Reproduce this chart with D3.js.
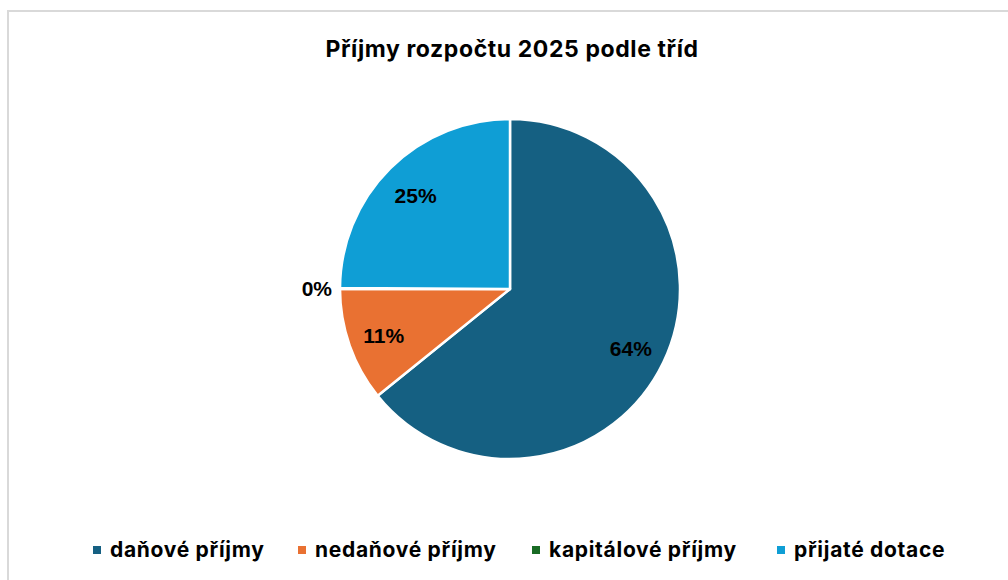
<!DOCTYPE html>
<html>
<head>
<meta charset="utf-8">
<script src="https://cdn.jsdelivr.net/npm/d3@7"></script>
<style>
  body { margin: 0; background: #fff; }
  svg text { font-family: Inter, "Open Sans", sans-serif; }
</style>
</head>
<body>
<div id="chart"></div>
<script>
// categories and shares of the 2025 budget income
var categories = ["daňové příjmy", "nedaňové příjmy", "kapitálové příjmy", "přijaté dotace"];
var values = [64.2, 10.8, 0.1, 24.9];
var colors = ["#156082", "#E97132", "#196B24", "#0F9ED5"];

var width = 1008,
    height = 580;

var data = categories.map(function(c, i) { return {name: c, value: values[i], color: colors[i]}; });
var total = d3.sum(values);

var svg = d3.select("#chart").append("svg")
    .attr("width", width)
    .attr("height", height);

// chart area frame
svg.append("rect")
    .attr("x", 8).attr("y", 11)
    .attr("width", 1020).attr("height", 600)
    .attr("fill", "#fff")
    .attr("stroke", "#d9d9d9")
    .attr("stroke-width", 2);

svg.append("text")
    .attr("x", 512)
    .attr("y", 57)
    .attr("text-anchor", "middle")
    .style("font-size", "23px")
    .style("font-weight", "bold")
    .style("letter-spacing", "0.6px")
    .attr("fill", "#000")
    .text("Příjmy rozpočtu 2025 podle tříd");

var cx = 510, cy = 289, r = 170;

var pie = d3.pie().sort(null).value(function(d) { return d.value; });
var arc = d3.arc().innerRadius(0).outerRadius(r);
var labelArc = d3.arc().innerRadius(134).outerRadius(134);
var outerArc = d3.arc().innerRadius(195).outerRadius(195);

var g = svg.append("g").attr("transform", "translate(" + cx + "," + cy + ")");
var arcs = pie(data);

g.selectAll("path.slice")
    .data(arcs).enter().append("path")
    .attr("class", "slice")
    .attr("d", arc)
    .attr("fill", function(d) { return d.data.color; })
    .attr("stroke", "#fff")
    .attr("stroke-width", 2.5)
    .attr("stroke-linejoin", "round");

// labels: tiny slices get pushed outside the pie
g.selectAll("text.label")
    .data(arcs).enter().append("text")
    .attr("class", "label")
    .each(function(d) {
        var small = d.data.value / total < 0.02;
        var p = small ? outerArc.centroid(d) : labelArc.centroid(d);
        d3.select(this)
            .attr("x", small ? p[0] + 17 : p[0])
            .attr("y", small ? p[1] : p[1] + 2)
            .attr("text-anchor", small ? "end" : "middle");
    })
    .attr("dy", "0.35em")
    .style("font-family", "'Liberation Sans', Arial, sans-serif")
    .style("font-size", "21px")
    .style("font-weight", "bold")
    .attr("fill", "#000")
    .text(function(d) { return Math.round(d.data.value / total * 100) + "%"; });

// legend along the bottom
var legendX = [93, 298, 532, 777];
var legend = svg.selectAll("g.legend")
    .data(data).enter().append("g")
    .attr("class", "legend")
    .attr("transform", function(d, i) { return "translate(" + legendX[i] + ",550)"; });

legend.append("rect")
    .attr("x", 0).attr("y", -4)
    .attr("width", 8).attr("height", 8)
    .attr("fill", function(d) { return d.color; });

legend.append("text")
    .attr("x", 17)
    .attr("dy", "0.35em")
    .style("font-size", "21px")
    .style("font-weight", "bold")
    .style("letter-spacing", "0.7px")
    .attr("fill", "#000")
    .text(function(d) { return d.name; });
</script>
</body>
</html>
